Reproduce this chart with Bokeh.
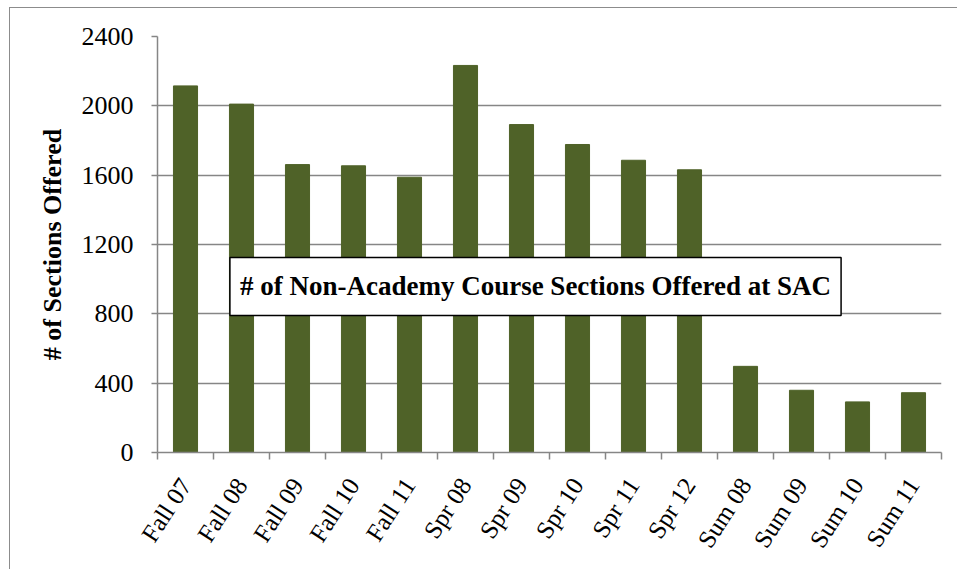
from math import pi
from bokeh.plotting import figure
from bokeh.models import FixedTicker, Label, Range1d, InlineStyleSheet, ColumnDataSource, LinearAxis
from bokeh.embed import file_html
from bokeh.resources import INLINE

categories = ["Fall 07", "Fall 08", "Fall 09", "Fall 10", "Fall 11",
              "Spr 08", "Spr 09", "Spr 10", "Spr 11", "Spr 12",
              "Sum 08", "Sum 09", "Sum 10", "Sum 11"]
sections = [2115, 2010, 1661, 1654, 1588, 2233, 1892, 1777, 1686, 1631, 497, 359, 292, 345]
y_ticks = [0, 400, 800, 1200, 1600, 2000, 2400]

title_text = "# of Non-Academy Course Sections Offered at SAC"
y_label = "# of Sections Offered"

positions = [i + 0.5 for i in range(len(categories))]
boundaries = list(range(len(categories) + 1))

src = ColumnDataSource(dict(x=positions, top=sections, cat=categories))

GRID = "#868686"
SERIF = "Liberation Serif"

p = figure(width=948, height=562, output_backend="svg", toolbar_location=None,
           x_range=Range1d(0, len(categories)), y_range=Range1d(0, 2400),
           min_border_left=147, min_border_top=28, min_border_right=17, min_border_bottom=118)
p.stylesheets = [InlineStyleSheet(css=":host { border-left: 1px solid #8c8c8c; border-top: 1px solid #8c8c8c; "
                                      "box-sizing: border-box; margin: 7px 0 0 9px; }")]
p.outline_line_color = None
p.background_fill_color = "white"

p.vbar(x="x", top="top", width=0.43, source=src, fill_color="#4F6228", line_color="#4F6228")

# x axis (nearest the frame): tick marks at category boundaries, labels not drawn
xa = p.xaxis[0]
xa.ticker = FixedTicker(ticks=boundaries, minor_ticks=[])
xa.major_tick_out = 7
xa.major_tick_in = 0
xa.major_tick_line_color = GRID
xa.major_tick_line_width = 1.5
xa.axis_line_color = GRID
xa.axis_line_width = 1.5
xa.major_label_text_font_size = "1px"
xa.major_label_text_color = None
xa.major_label_standoff = 0
xa.minor_tick_line_color = None

# second axis: category names at bar centres
xl = LinearAxis(ticker=FixedTicker(ticks=positions, minor_ticks=[]))
xl.major_label_overrides = {pos: c for pos, c in zip(positions, categories)}
xl.major_label_orientation = 57 * pi / 180
xl.axis_line_color = None
xl.major_tick_line_color = None
xl.minor_tick_line_color = None
xl.major_tick_out = 0
xl.major_tick_in = 0
xl.major_label_text_font = SERIF
xl.major_label_text_font_size = "25px"
xl.major_label_text_color = "black"
xl.major_label_standoff = 21
p.add_layout(xl, "below")

ya = p.yaxis[0]
ya.ticker = FixedTicker(ticks=y_ticks, minor_ticks=[])
ya.major_tick_out = 6
ya.major_tick_in = 0
ya.major_tick_line_color = GRID
ya.major_tick_line_width = 1.5
ya.axis_line_color = GRID
ya.axis_line_width = 1.5
ya.minor_tick_line_color = None
ya.major_label_text_font = SERIF
ya.major_label_text_font_size = "26px"
ya.major_label_text_color = "black"
ya.major_label_standoff = 18
ya.axis_label = y_label
ya.axis_label_text_font = SERIF
ya.axis_label_text_font_style = "bold"
ya.axis_label_text_font_size = "26px"
ya.axis_label_text_color = "black"
ya.axis_label_standoff = 12

p.xgrid.grid_line_color = None
p.ygrid.ticker = FixedTicker(ticks=y_ticks)
p.ygrid.grid_line_color = GRID
p.ygrid.grid_line_width = 1.5

title = Label(x=6.75, y=958, x_units="data", y_units="data", text=title_text,
              text_font=SERIF, text_font_style="bold", text_font_size="27px",
              text_color="black", text_align="center", text_baseline="middle",
              background_fill_color="white", border_line_color="black",
              border_line_width=1.5, padding=(10, 14))
p.add_layout(title)

open("out.html", "w").write(file_html(p, INLINE))
